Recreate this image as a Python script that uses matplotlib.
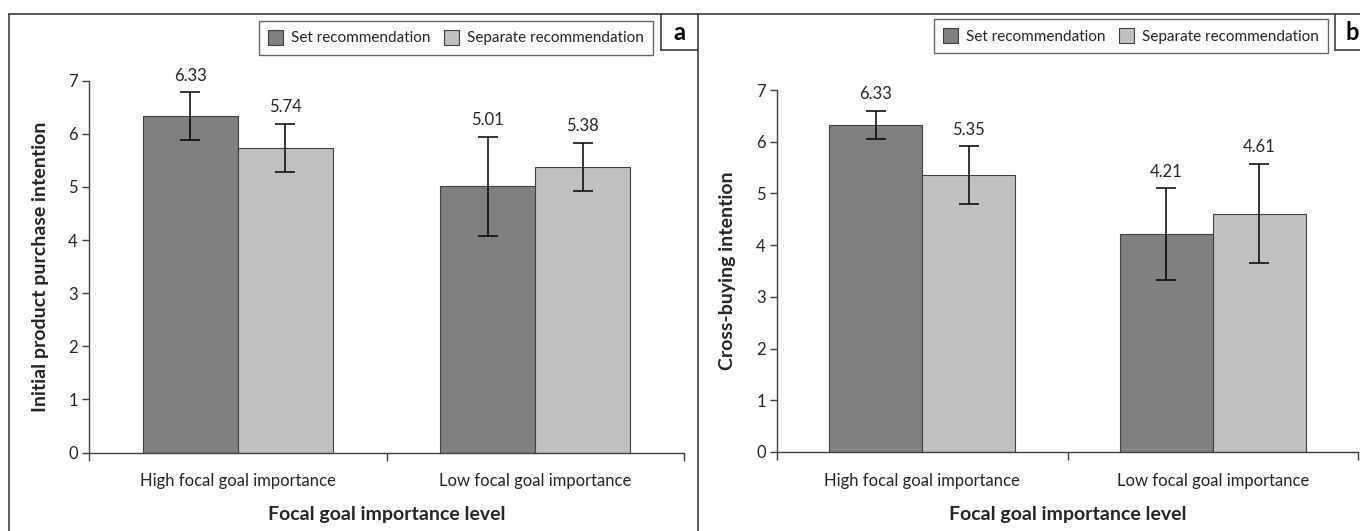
import matplotlib
matplotlib.use("Agg")
import matplotlib.pyplot as plt
from matplotlib.lines import Line2D
from matplotlib.patches import Patch
import numpy as np

plt.rcParams['font.family'] = ['Lato', 'DejaVu Sans']

categories = ["High focal goal importance", "Low focal goal importance"]
series_names = ["Set recommendation", "Separate recommendation"]

# Panel a
a_set = [6.33, 5.01]
a_sep = [5.74, 5.38]
a_set_err = [0.45, 0.93]
a_sep_err = [0.45, 0.45]

# Panel b
b_set = [6.33, 4.21]
b_sep = [5.35, 4.61]
b_set_err = [0.27, 0.89]
b_sep_err = [0.56, 0.96]

ylabels = ["Initial product purchase intention", "Cross-buying intention"]
xlabel = "Focal goal importance level"
panel_letters = ["a", "b"]

W, H = 1360, 531
fig = plt.figure(figsize=(W / 100, H / 100), dpi=100)

c_set = "#808080"
c_sep = "#c0c0c0"
edge = "#404040"
txt = "#262626"

def px(x0, y0, x1, y1):
    return [x0 / W, 1 - y1 / H, (x1 - x0) / W, (y1 - y0) / H]

ax_a = fig.add_axes(px(89, 80.7, 684, 452.5))
ax_b = fig.add_axes(px(777, 90, 1358, 452))

def draw(ax, sv, pv, se, pe, ylab, ylab_x, xlab_y):
    x = np.arange(len(categories))
    w = 0.32
    ax.bar(x - w / 2, sv, w, color=c_set, edgecolor=edge, linewidth=0.8, zorder=2)
    ax.bar(x + w / 2, pv, w, color=c_sep, edgecolor=edge, linewidth=0.8, zorder=2)
    ax.errorbar(x - w / 2, sv, yerr=se, fmt='none', ecolor='black', elinewidth=1.1,
                capsize=7.5, capthick=1.1, zorder=3)
    ax.errorbar(x + w / 2, pv, yerr=pe, fmt='none', ecolor='black', elinewidth=1.1,
                capsize=7.5, capthick=1.1, zorder=3)
    for xs, vals, errs in ((x - w / 2, sv, se), (x + w / 2, pv, pe)):
        for xi, v, e in zip(xs, vals, errs):
            ax.annotate(f"{v:.2f}", (xi, v + e), xytext=(0, 12), textcoords='offset points',
                        ha='center', va='center', fontsize=12, color=txt)
    ax.set_xlim(-0.5, len(categories) - 0.5)
    ax.set_ylim(0, 7)
    ax.set_yticks(range(0, 8))
    ax.set_xticks(np.arange(len(categories) + 1) - 0.5)
    ax.set_xticklabels([])
    ax.set_xticks(x, minor=True)
    ax.set_xticklabels(categories, minor=True)
    ax.tick_params(axis='x', which='minor', length=0, pad=15, labelsize=12, labelcolor=txt)
    ax.tick_params(axis='x', which='major', direction='out', length=6, width=1, color=edge)
    ax.tick_params(axis='y', direction='out', length=5, width=1, color=edge,
                   labelsize=12, labelcolor=txt, pad=3)
    for s in ('top', 'right'):
        ax.spines[s].set_visible(False)
    for s in ('left', 'bottom'):
        ax.spines[s].set_color(edge)
        ax.spines[s].set_linewidth(1)
    ax.set_ylabel(ylab, fontsize=14, fontweight='bold', color=txt)
    ax.yaxis.set_label_coords(ylab_x, 0.5)
    ax.set_xlabel(xlabel, fontsize=14, fontweight='bold', color=txt)
    ax.xaxis.set_label_coords(0.5, xlab_y)

draw(ax_a, a_set, a_sep, a_set_err, a_sep_err, ylabels[0], -0.067, -0.144)
draw(ax_b, b_set, b_sep, b_set_err, b_sep_err, ylabels[1], -0.0706, -0.149)

# frames
fc = "#404040"
lw = 1.2
def fline(xs, ys):
    fig.add_artist(Line2D([v / W for v in xs], [1 - v / H for v in ys], color=fc, linewidth=lw))

fline([9, 1360], [13.5, 13.5])
fline([9, 9], [13.5, 531])
fline([698, 698], [13.5, 531])
# letter boxes
fline([661, 661], [13.5, 50])
fline([661, 698], [50, 50])
fline([1335, 1335], [13.5, 50])
fline([1335, 1360], [50, 50])
fig.text(679.5 / W, 1 - 32 / H, panel_letters[0], ha='center', va='center',
         fontsize=17, fontweight='bold', color='black')
fig.text(1352 / W, 1 - 32 / H, panel_letters[1], ha='center', va='center',
         fontsize=17, fontweight='bold', color='black')

handles = [Patch(facecolor=c_set, edgecolor=edge, linewidth=0.8),
           Patch(facecolor=c_sep, edgecolor=edge, linewidth=0.8)]
for xr, yt in ((653, 20.7), (1328, 19)):
    leg = fig.legend(handles, series_names, loc='upper right', bbox_to_anchor=(xr / W, 1 - yt / H),
                     ncol=2, frameon=True, fancybox=False, fontsize=11, handlelength=1.0,
                     handleheight=1.1, handletextpad=0.5, columnspacing=0.9, borderpad=0.6,
                     borderaxespad=0)
    leg.get_frame().set_edgecolor(fc)
    leg.get_frame().set_linewidth(1.0)
    for t in leg.get_texts():
        t.set_color(txt)

fig.savefig("out.png", dpi=100)
